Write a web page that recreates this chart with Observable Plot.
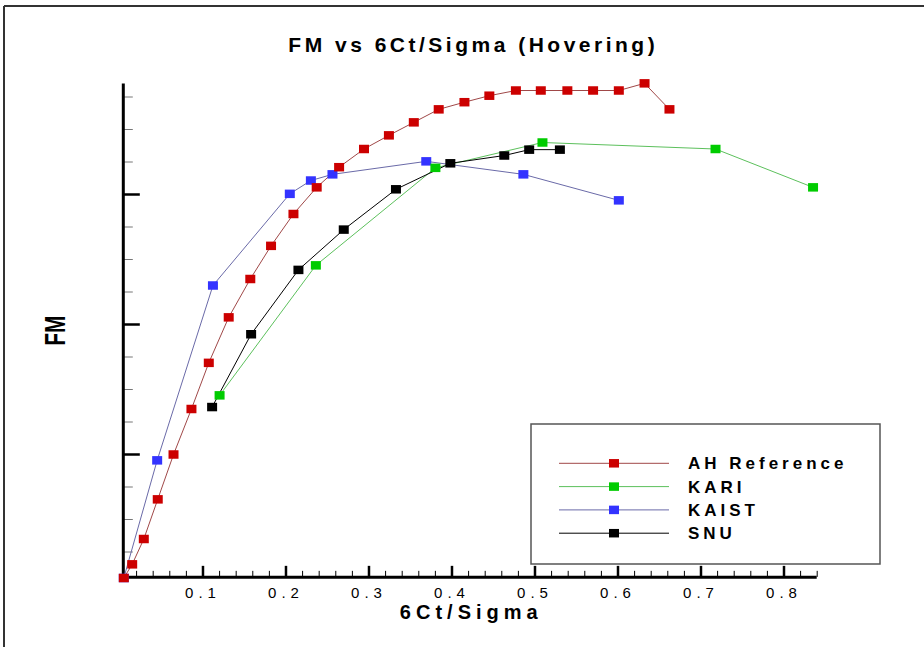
<!DOCTYPE html>
<html><head><meta charset="utf-8">
<script src="https://cdn.jsdelivr.net/npm/d3@7"></script>
<script src="https://cdn.jsdelivr.net/npm/@observablehq/plot@0.6"></script>
<style>
html,body{margin:0;padding:0;background:#fff;}
#chart svg{display:block;font-family:"Liberation Sans",Arial,sans-serif;}
g[aria-label="x-axis tick label"] text{letter-spacing:5px;}
</style></head><body><div id="chart"></div>
<script>
// ---- data ----
const seriesNames = ["AH Reference", "KARI", "KAIST", "SNU"];
const lineColors = ["#a04848", "#5cc05c", "#6a6aa8", "#000000"];
const markerColors = ["#cc0000", "#00cc00", "#3333ff", "#000000"];

const ahX = [0.0046,0.0147,0.0287,0.0455,0.0645,0.0861,0.107,0.131,0.157,0.182,0.209,0.237,0.264,0.294,0.324,0.354,0.384,0.415,0.445,0.477,0.507,0.539,0.570,0.601,0.632,0.662];
const ahY = [0.010,0.031,0.070,0.131,0.200,0.270,0.341,0.411,0.470,0.521,0.570,0.611,0.642,0.670,0.691,0.711,0.731,0.742,0.752,0.760,0.760,0.760,0.760,0.760,0.771,0.731];

const kariX = [0.120,0.236,0.380,0.509,0.7175,0.835];
const kariY = [0.291,0.491,0.641,0.680,0.670,0.611];

const kaistX = [0.0046,0.0448,0.112,0.2046,0.230,0.256,0.369,0.486,0.601];
const kaistY = [0.010,0.191,0.460,0.601,0.6215,0.631,0.651,0.631,0.591];

const snuX = [0.111,0.158,0.215,0.2696,0.3325,0.398,0.463,0.493,0.530];
const snuY = [0.273,0.385,0.484,0.546,0.608,0.648,0.660,0.669,0.669];

const xMajor = [0.1,0.2,0.3,0.4,0.5,0.6,0.7,0.8];
const xMinor = [0.02,0.04,0.06,0.08,0.12,0.14,0.16,0.18,0.22,0.24,0.26,0.28,0.32,0.34,0.36,0.38,0.42,0.44,0.46,0.48,0.52,0.54,0.56,0.58,0.62,0.64,0.66,0.68,0.72,0.74,0.76,0.78,0.82,0.84];
const yMajor = [0.2,0.4,0.6];
const yMinor = [0.05,0.1,0.15,0.25,0.3,0.35,0.45,0.5,0.55,0.65,0.7,0.75];
const xDomain = [0.004, 0.84];
const yDomain = [0.011, 0.77];

const titleText = "FM vs 6Ct/Sigma (Hovering)";
const xLabel = "6Ct/Sigma";
const yLabel = "FM";

// ---- build ----
const xsAll = [ahX, kariX, kaistX, snuX];
const ysAll = [ahY, kariY, kaistY, snuY];
const series = seriesNames.map((name, i) => ({
  name, line: lineColors[i], fill: markerColors[i],
  rows: xsAll[i].map((x, j) => ({series: name, x, y: ysAll[i][j]}))
}));

const rectSymbol = {draw(ctx) { ctx.rect(-5, -4.25, 10, 8.5); }};

const lineMarks = series.map(s => Plot.line(s.rows, {x: "x", y: "y", stroke: s.line, strokeWidth: 1}));
const dotOrder = [2, 0, 1, 3];
const dotMarks = dotOrder.map(i => Plot.dot(series[i].rows, {x: "x", y: "y", symbol: rectSymbol, fill: series[i].fill, stroke: "none"}));

const chart = Plot.plot({
  width: 924, height: 647,
  marginLeft: 122.8, marginRight: 107.3, marginTop: 83.5, marginBottom: 70.15,
  style: {fontFamily: '"Liberation Sans", Arial, sans-serif', background: "#fff"},
  x: {domain: xDomain, label: null},
  y: {domain: yDomain, label: null},
  marks: [
    Plot.axisX({ticks: xMinor, tickSize: -6, tickFormat: () => "", strokeWidth: 1, label: null}),
    Plot.axisX({ticks: xMajor, tickSize: -11, tickFormat: () => "", strokeWidth: 2.5, label: null}),
    Plot.axisX({ticks: xMajor, tickSize: 0, tickPadding: 10, tickFormat: d3.format(".1f"), fontSize: 15, label: null}),
    Plot.axisY({ticks: yMinor, tickSize: -10, tickFormat: () => "", stroke: "#777", strokeWidth: 1, label: null}),
    Plot.axisY({ticks: yMajor, tickSize: -17, tickFormat: () => "", strokeWidth: 2.5, label: null}),
    Plot.ruleX([xDomain[0]], {strokeWidth: 3}),
    Plot.ruleY([yDomain[0]], {strokeWidth: 3}),
    ...lineMarks,
    ...dotMarks,
    Plot.text([titleText], {text: d => d, frameAnchor: "top", textAnchor: "middle", dy: -39, dx: 3, fontSize: 21, fontWeight: "bold", lineAnchor: "middle"}),
    Plot.text([xLabel], {text: d => d, frameAnchor: "bottom", textAnchor: "middle", dy: 35, dx: 1, fontSize: 20, fontWeight: "bold", lineAnchor: "middle"}),
    Plot.text([yLabel], {text: d => d, frameAnchor: "left", textAnchor: "middle", dx: -68, rotate: -90, fontSize: 29, fontWeight: "bold", lineAnchor: "middle"})
  ]
});
document.getElementById("chart").appendChild(chart);

const svg = d3.select(chart);
const byText = s => svg.selectAll("text").filter(function() { return this.textContent === s; });
byText(titleText).attr("letter-spacing", "3.5px");
byText(xLabel).attr("letter-spacing", "5px");
// condense the rotated y label along its length
byText(yLabel).each(function() {
  const t = this.getAttribute("transform") || "";
  this.setAttribute("transform", t + " scale(0.72,1)");
});

// outer frame (top and left edges as in the reference)
svg.append("line").attr("x1", 4).attr("y1", 6).attr("x2", 924).attr("y2", 6).attr("stroke", "#333").attr("stroke-width", 2);
svg.append("line").attr("x1", 4).attr("y1", 6).attr("x2", 4).attr("y2", 647).attr("stroke", "#333").attr("stroke-width", 2);

// legend
const lg = svg.append("g").attr("aria-label", "legend");
lg.append("rect").attr("x", 531).attr("y", 424).attr("width", 349).attr("height", 140)
  .attr("fill", "#fff").attr("stroke", "#555").attr("stroke-width", 1.5);
series.forEach((s, i) => {
  const cy = 463.3 + i * 23.3;
  lg.append("line").attr("x1", 559).attr("x2", 669).attr("y1", cy).attr("y2", cy).attr("stroke", s.line).attr("stroke-width", 1);
  lg.append("rect").attr("x", 614 - 5).attr("y", cy - 4.25).attr("width", 10).attr("height", 8.5).attr("fill", s.fill);
  lg.append("text").attr("x", 688).attr("y", cy + 6.1).text(s.name)
    .attr("text-anchor", "start").attr("font-size", 17).attr("font-weight", "bold").attr("letter-spacing", "4px").attr("fill", "#000");
});
</script></body></html>
